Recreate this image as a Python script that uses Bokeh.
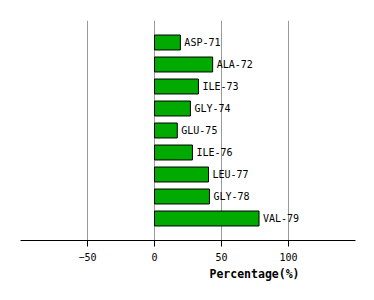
from bokeh.plotting import figure
from bokeh.models import Range1d, FixedTicker, Title, ColumnDataSource
from bokeh.core.properties import value
from bokeh.embed import file_html
from bokeh.resources import INLINE

residues = ["ASP-71", "ALA-72", "ILE-73", "GLY-74", "GLU-75", "ILE-76", "LEU-77", "GLY-78", "VAL-79"]
percent = [19.3, 43.4, 32.8, 26.8, 17.0, 28.3, 40.3, 41.0, 78.0]
ticks = [-50, 0, 50, 100]

pos = list(range(1, len(residues) + 1))
src = ColumnDataSource(dict(y=pos, v=percent, name=residues))

FONT = "DejaVu Sans Mono"

p = figure(frame_width=335, frame_height=220, output_backend="svg", toolbar_location=None,
           x_range=Range1d(-100, 150), y_range=Range1d(10, 0),
           min_border_left=20, min_border_right=19, min_border_top=20, min_border_bottom=60)
p.outline_line_color = None
p.yaxis.visible = False
p.ygrid.visible = False

p.xgrid.ticker = FixedTicker(ticks=ticks)
p.xgrid.grid_line_color = "#999999"
p.xgrid.grid_line_width = 1

ax = p.xaxis[0]
ax.ticker = FixedTicker(ticks=ticks)
ax.axis_line_color = "black"
ax.major_tick_line_color = "black"
ax.major_tick_in = 0
ax.major_tick_out = 6
ax.minor_tick_line_color = None
ax.major_label_text_font = FONT
ax.major_label_text_font_size = "10px"
ax.major_label_text_color = "black"
ax.major_label_standoff = 6

p.hbar(y="y", left=0, right="v", height=0.68, source=src,
       fill_color="#00AA00", line_color="black", line_width=1)

p.text(x="v", y="y", text="name", source=src, x_offset=4,
       text_font=value(FONT), text_font_size="10px", text_baseline="middle",
       text_align="left", text_color="black")

t = Title(text="Percentage(%)", align="left", offset=189,
          text_font=FONT, text_font_size="11.5px", text_font_style="bold",
          text_color="black", standoff=2)
p.add_layout(t, "below")

open("out.html", "w").write(file_html(p, INLINE))
